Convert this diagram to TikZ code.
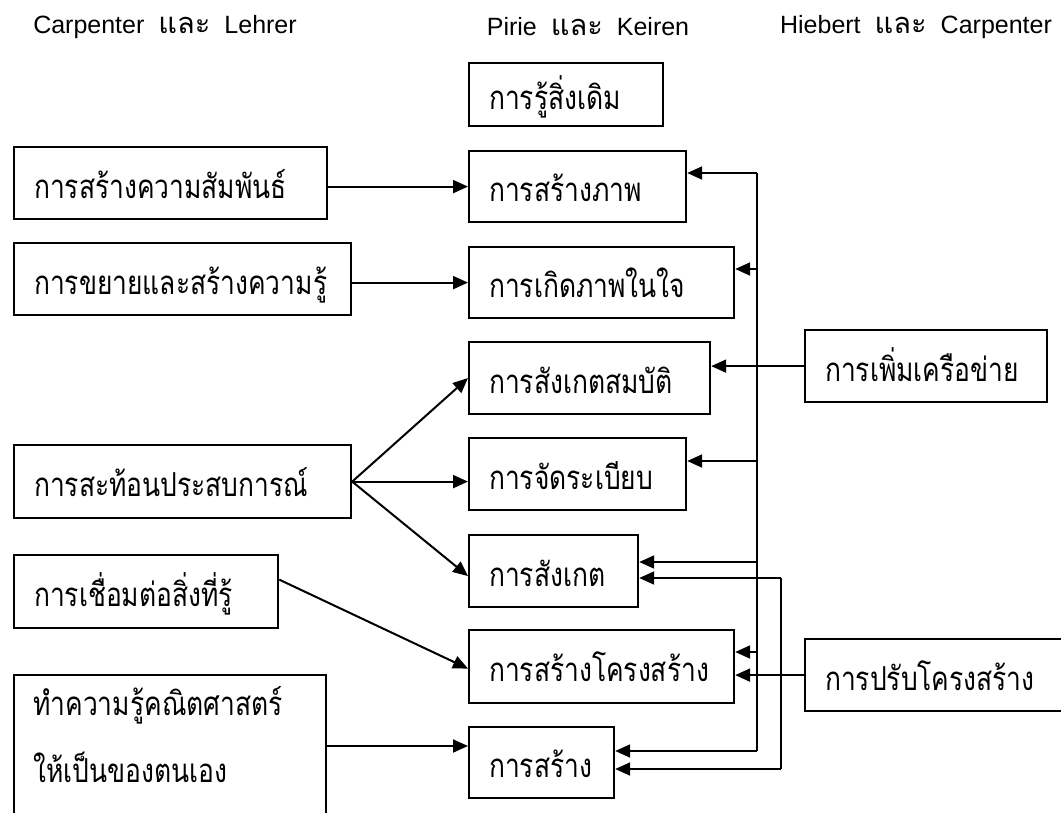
\documentclass[tikz,border=0pt]{standalone}
\usepackage{fontspec}
\setmainfont{Liberation Sans}
\newfontfamily\thai[Script=Thai,FakeStretch=0.8]{Loma}
\newfontfamily\thaihead[Script=Thai]{Loma}
\usetikzlibrary{arrows.meta,calc}
\tikzset{
  box/.style={draw, line width=2.2pt, inner xsep=20pt, inner ysep=0pt, align=left,
    text height=30pt, text depth=0pt, font=\thai\fontsize{33}{38}\selectfont},
  txt/.style={inner sep=0pt, font=\thai\fontsize{33}{38}\selectfont},
  head/.style={inner sep=0pt, font=\fontsize{25}{29}\selectfont},
  arr/.style={line width=2pt, -{Triangle[length=15pt,width=13pt]}},
  wire/.style={line width=2pt}
}
\newcommand{\bx}[6]{%
  \pgfmathsetmacro\bw{#4-#2}\pgfmathsetmacro\bh{#5-#3}\pgfmathsetmacro\tw{#4-#2-40}%
  \node[box, minimum width=\bw pt, minimum height=\bh pt, text width=\tw pt, anchor=north west] (#1) at (#2,#3) {#6};}
\newcommand{\andth}{\hspace{14pt}{\thaihead\fontsize{29}{29}\selectfont และ}\hspace{14pt}}
\begin{document}
\begin{tikzpicture}[x=1pt,y=-1pt]
\useasboundingbox (0,0) rectangle (1061,812);
\clip (0,0) rectangle (1061,812);
\fill[white] (0,0) rectangle (1061,812);
% headers
\node[head] (h1) at (165,27) {Carpenter\andth Lehrer};
\node[head] (h2) at (588,27) {Pirie\andth Keiren};
\node[head] (h3) at (916,27) {Hiebert\andth Carpenter};
% middle column
\bx{know}{468}{62}{662}{125}{การรู้สิ่งเดิม}
\bx{img}{468}{150}{685}{221}{การสร้างภาพ}
\bx{mind}{468}{246}{733}{317}{การเกิดภาพในใจ}
\bx{prop}{468}{341}{709}{413}{การสังเกตสมบัติ}
\bx{org}{468}{437}{685}{509}{การจัดระเบียบ}
\bx{obs}{468}{534}{637}{606}{การสังเกต}
\bx{struct}{468}{629}{733}{702}{การสร้างโครงสร้าง}
\bx{build}{468}{726}{613}{797}{การสร้าง}
% left column
\bx{rel}{13}{146}{326}{218}{การสร้างความสัมพันธ์}
\bx{ext}{13}{242}{350}{314}{การขยายและสร้างความรู้}
\bx{refl}{13}{444}{350}{517}{การสะท้อนประสบการณ์}
\bx{conn}{13}{554}{277}{627}{การเชื่อมต่อสิ่งที่รู้}
\node[draw, line width=2.2pt, minimum width=312pt, minimum height=200pt, anchor=north west, inner sep=0pt] (own) at (13,674) {};
\node[txt, anchor=base west] (own1) at (33,715) {ทำความรู้คณิตศาสตร์};
\node[txt, anchor=base west] (own2) at (33,782) {ให้เป็นของตนเอง};
% right column
\bx{net}{804}{329}{1046}{401}{การเพิ่มเครือข่าย}
\bx{adj}{804}{638}{1090}{710}{การปรับโครงสร้าง}
% left connectors
\draw[arr] (rel.east |- img.west) -- (img.west);
\draw[arr] (ext.east |- mind.west) -- (mind.west);
\draw[arr] (refl.east) -- (prop.west);
\draw[arr] (refl.east) -- (refl.east -| org.west);
\draw[arr] (refl.east) -- ($(obs.west)+(0,5)$);
\draw[arr] ($(conn.east)+(0,-12)$) -- ($(struct.west)+(0,2)$);
\coordinate (ownout) at (own.east |- 0,746);
\draw[arr] (ownout) -- (ownout -| build.west);
% bus 1
\coordinate (b1t) at (757,173);
\coordinate (b1m) at (757,269);
\coordinate (b1o) at (757,461);
\coordinate (b1s) at (757,562);
\coordinate (b1r) at (757,652);
\coordinate (b1b) at (757,751);
\draw[wire] (b1t) -- (b1b);
\draw[arr] (b1t) -- (b1t -| img.east);
\draw[arr] (b1m) -- (b1m -| mind.east);
\draw[arr] (b1o) -- (b1o -| org.east);
\draw[arr] (b1s) -- (b1s -| obs.east);
\draw[arr] (b1r) -- (b1r -| struct.east);
\draw[arr] (b1b) -- (b1b -| build.east);
\draw[arr] (net.west) -- (net.west -| prop.east);
% bus 2
\coordinate (b2t) at (781,578);
\coordinate (b2b) at (781,769);
\draw[wire] (b2t) -- (b2b);
\draw[arr] (b2t) -- (b2t -| obs.east);
\draw[arr] (b2b) -- (b2b -| build.east);
\draw[arr] (adj.west) -- (adj.west -| struct.east);
\end{tikzpicture}
\end{document}
